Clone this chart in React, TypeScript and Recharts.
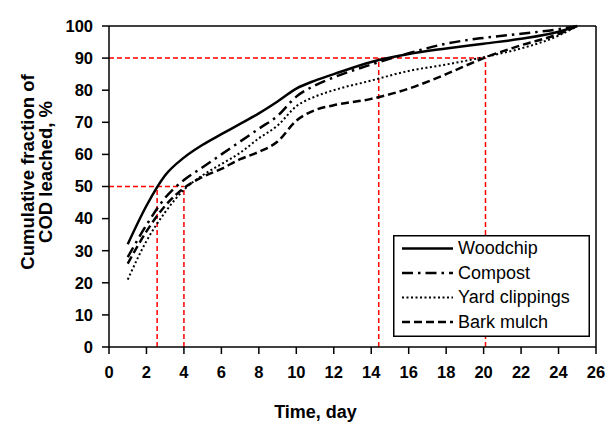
import React from "react";
import { Line, LineChart, ReferenceLine, XAxis, YAxis } from "recharts";

// days on which the leached fraction was read
const days = [1, 2, 3, 4, 5, 6, 7, 8, 9, 10, 11, 12, 14, 16, 18, 20, 22, 24, 25];

const woodchip = [32, 44, 53.5, 59, 63, 66.3, 69.5, 72.8, 76.5, 80.5, 83, 85, 88.8, 91.3, 93, 94.5, 96, 98.2, 100];
const compost = [28, 38, 46.5, 52, 56, 60, 64, 68, 72, 78, 81.5, 84, 88, 91.5, 94.5, 96.3, 97.6, 99, 100];
const yardClippings = [21, 33, 42, 49, 53.5, 57, 60.5, 65, 69, 75, 78, 80, 83, 86, 88, 90.3, 93, 97, 100];
const barkMulch = [26, 36, 44, 49.5, 53, 55.5, 58.5, 60.8, 64, 70.5, 73.8, 75.3, 77.3, 80.5, 85, 90, 94, 97.5, 100];

const xTicks = [0, 2, 4, 6, 8, 10, 12, 14, 16, 18, 20, 22, 24, 26];
const yTicks = [0, 10, 20, 30, 40, 50, 60, 70, 80, 90, 100];

// red guide lines: [x1, y1, x2, y2]
const guides = [
  [0, 50, 4, 50],
  [2.57, 0, 2.57, 50],
  [4, 0, 4, 50],
  [0, 90, 20.1, 90],
  [14.4, 0, 14.4, 90],
  [20.1, 0, 20.1, 90]
];

const series = [
  { key: "woodchip", name: "Woodchip", dash: undefined, width: 2.5 },
  { key: "compost", name: "Compost", dash: "11 5 2.5 5", width: 2.5 },
  { key: "yard", name: "Yard clippings", dash: "2 2.5", width: 2 },
  { key: "bark", name: "Bark mulch", dash: "8 4", width: 2.5 }
];

const data = days.map((d, i) => ({
  day: d,
  woodchip: woodchip[i],
  compost: compost[i],
  yard: yardClippings[i],
  bark: barkMulch[i]
}));

const font = "'Liberation Sans', Arial, sans-serif";

function YTitle() {
  return (
    <g transform="translate(0, 172) rotate(-90)">
      <text x={0} y={34} textAnchor="middle" fontFamily={font} fontWeight="bold" fontSize={18.5} fill="#000">
        Cumulative fraction of
      </text>
      <text x={0} y={52} textAnchor="middle" fontFamily={font} fontWeight="bold" fontSize={18.5} fill="#000">
        COD leached, %
      </text>
    </g>
  );
}

function LegendBox() {
  return (
    <svg width={197} height={102} style={{ position: "absolute", left: 393, top: 235 }}>
      <rect x={0.75} y={0.75} width={195.5} height={100.5} fill="#fff" stroke="#000" strokeWidth={1.5} />
      {series.map((s, i) => (
        <g key={s.key}>
          <line x1={9} x2={60} y1={13.5 + i * 24.5} y2={13.5 + i * 24.5} stroke="#000" strokeWidth={s.width} strokeDasharray={s.dash} />
          <text x={65} y={19 + i * 24.5} fontFamily={font} fontSize={18} fill="#000">
            {s.name}
          </text>
        </g>
      ))}
    </svg>
  );
}

export default function App() {
  return (
    <div style={{ position: "absolute", left: 0, top: 0, width: 606, height: 422, background: "#fff" }}>
      <LineChart width={606} height={422} data={data} margin={{ top: 26, right: 10, left: 0, bottom: 0 }}>
        <XAxis
          dataKey="day"
          type="number"
          domain={[0, 26]}
          ticks={xTicks}
          interval={0}
          stroke="#000"
          strokeWidth={1.5}
          tickSize={7}
          height={75}
          tick={{ fill: "#000", fontFamily: font, fontWeight: "bold", fontSize: 16.5, dy: 10 }}
          label={{ value: "Time, day", position: "insideBottom", offset: 4, dx: -37, fill: "#000", fontFamily: font, fontWeight: "bold", fontSize: 18 }}
        />
        <YAxis
          type="number"
          domain={[0, 100]}
          ticks={yTicks}
          interval={0}
          stroke="#000"
          strokeWidth={1.5}
          tickSize={7}
          width={109}
          tick={{ fill: "#000", fontFamily: font, fontWeight: "bold", fontSize: 16.5, dx: -7 }}
          label={<YTitle />}
        />
        <ReferenceLine y={100} stroke="#000" strokeWidth={1.5} />
        <ReferenceLine x={26} stroke="#000" strokeWidth={1.5} />
        {guides.map((g, i) => (
          <ReferenceLine
            key={i}
            segment={[{ x: g[0], y: g[1] }, { x: g[2], y: g[3] }]}
            stroke="#ff0000"
            strokeWidth={1.5}
            strokeDasharray="5 3"
          />
        ))}
        {series.map((s) => (
          <Line
            key={s.key}
            dataKey={s.key}
            name={s.name}
            type="monotone"
            stroke="#000"
            strokeWidth={s.width}
            strokeDasharray={s.dash}
            dot={false}
            isAnimationActive={false}
          />
        ))}
      </LineChart>
      <LegendBox />
    </div>
  );
}
